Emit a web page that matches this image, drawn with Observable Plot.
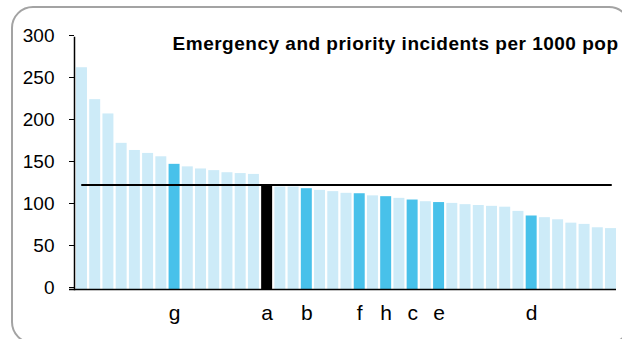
<!DOCTYPE html>
<html>
<head>
<meta charset="utf-8">
<script src="https://cdn.jsdelivr.net/npm/d3@7"></script>
<script src="https://cdn.jsdelivr.net/npm/@observablehq/plot@0.6"></script>
<style>
  html, body { margin: 0; padding: 0; background: #fff; }
  #wrap { position: relative; width: 622px; height: 339px; overflow: hidden; font-family: "Liberation Sans", Arial, sans-serif; }
  #frame { position: absolute; left: 11px; top: 6px; width: 620px; height: 338px; border: 2px solid #a3a3a3; border-radius: 22px; box-sizing: border-box; }
  #chart { position: absolute; left: 0; top: 0; }
  .ttl text { letter-spacing: 0.5px; }
</style>
</head>
<body>
<div id="wrap"><div id="frame"></div><div id="chart"></div></div>
<script>
const title = "Emergency and priority incidents per 1000 pop";
const values = [264, 226, 209, 174, 165.5, 162, 158, 149, 146, 143.5, 141.5, 139, 138, 137,
  125, 122, 122, 120, 118, 116.5, 114.5, 114, 111.5, 110.5, 108.5, 106.5, 104.5, 103.5,
  102.5, 101, 100, 99, 98, 93, 87.5, 85.5, 83, 79, 77.5, 73.5, 72.5];
const labels = ["", "", "", "", "", "", "", "g", "", "", "", "", "", "",
  "a", "", "", "b", "", "", "", "f", "", "h", "", "c", "", "e",
  "", "", "", "", "", "", "d", "", "", "", "", "", ""];
const groups = ["o","o","o","o","o","o","o","p","o","o","o","o","o","o",
  "s","o","o","p","o","o","o","p","o","p","o","p","o","p",
  "o","o","o","o","o","o","p","o","o","o","o","o","o"];
const average = 124.5;
const yTicks = [0, 50, 100, 150, 200, 250, 300];

const data = values.map((v, i) => ({i, v, label: labels[i], g: groups[i]}));
const idx = data.map(d => d.i);

const chart = Plot.plot({
  width: 622,
  height: 339,
  marginLeft: 74,
  marginRight: 4,
  marginTop: 37,
  marginBottom: 50,
  style: {fontFamily: "Liberation Sans, Arial, sans-serif", fontSize: "19px", color: "#000", background: "transparent"},
  x: {domain: idx, paddingInner: 0.17, paddingOuter: 0.15, round: false, label: null},
  y: {domain: [0, 300], label: null},
  color: {domain: ["o", "p", "s"], range: ["#cdebf8", "#48c1ea", "#000000"]},
  marks: [
    Plot.barY(data, {x: "i", y: "v", fill: "g"}),
    Plot.lineY(idx, {x: d => d, y: () => average, stroke: "#000", strokeWidth: 2}),
    Plot.ruleY([0], {stroke: "#000", strokeWidth: 1.5, insetLeft: -5, insetRight: 2}),
    Plot.frame({anchor: "left", stroke: "#000", strokeWidth: 1.5}),
    Plot.axisY({ticks: yTicks, tickSize: 5, tickPadding: 15, dy: -2, fontSize: 19, label: null}),
    Plot.axisX({tickSize: 0, tickPadding: 16, fontSize: 21, tickFormat: i => labels[i], label: null}),
    Plot.text([title], {frameAnchor: "top-right", dx: 0, dy: 6, lineAnchor: "middle", fontWeight: "bold", fontSize: 19, className: "ttl"})
  ]
});
document.getElementById("chart").appendChild(chart);
</script>
</body>
</html>
